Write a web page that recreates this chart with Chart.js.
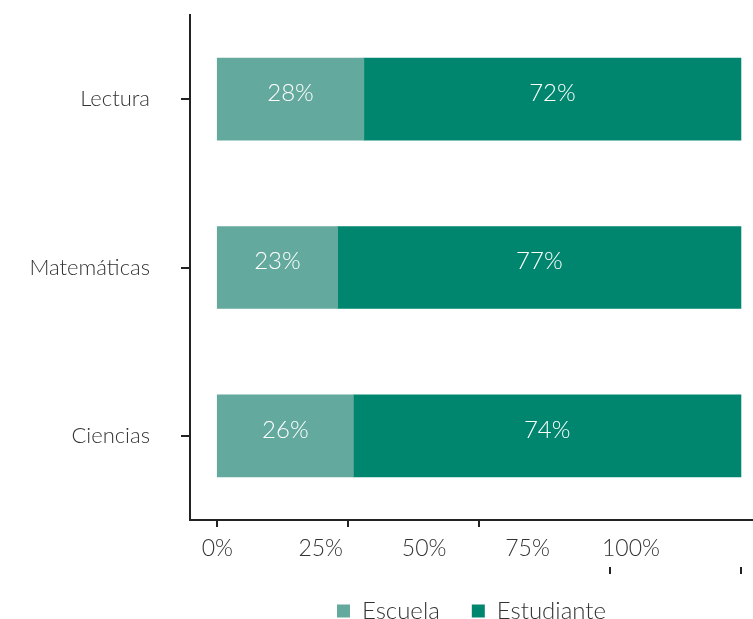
<!DOCTYPE html>
<html>
<head>
<meta charset="utf-8">
<script src="https://cdn.jsdelivr.net/npm/chart.js@4"></script>
<style>
  html, body { margin: 0; padding: 0; background: #ffffff; }
  #wrap { width: 753px; height: 619px; }
</style>
</head>
<body>
<div id="wrap"><canvas id="c" width="753" height="619"></canvas></div>
<script>
// Distribución de la responsabilidad por área
const categories = ['Lectura', 'Matemáticas', 'Ciencias'];
const escuela = [28, 23, 26];
const estudiante = [72, 77, 74];
const xTickValues = [0, 25, 50, 75, 100];

const FONT = "Lato, 'Open Sans', sans-serif";
const TEXT = '#333333';
const AXIS = '#222222';

// White percentage labels centred on each bar segment
const segmentLabels = {
  id: 'segmentLabels',
  afterDatasetsDraw(chart) {
    const ctx = chart.ctx;
    ctx.save();
    ctx.fillStyle = '#ffffff';
    ctx.font = '300 24px ' + FONT;
    ctx.textAlign = 'center';
    ctx.textBaseline = 'middle';
    chart.data.datasets.forEach((ds, di) => {
      chart.getDatasetMeta(di).data.forEach((bar, i) => {
        const p = bar.getCenterPoint();
        ctx.fillText(ds.data[i] + '%', p.x, p.y - 6);
      });
    });
    ctx.restore();
  }
};

// Small tick marks along the value axis
const valueTicks = {
  id: 'valueTicks',
  afterDraw(chart) {
    const sc = chart.scales.x;
    const ctx = chart.ctx;
    const base = chart.chartArea.bottom;
    ctx.save();
    ctx.strokeStyle = AXIS;
    ctx.lineWidth = 2;
    xTickValues.forEach((v, i) => {
      const px = Math.round(sc.getPixelForValue(v));
      const y0 = i < 3 ? base : base + 47;
      ctx.beginPath();
      ctx.moveTo(px, y0);
      ctx.lineTo(px, y0 + 7);
      ctx.stroke();
    });
    ctx.restore();
  }
};

new Chart(document.getElementById('c'), {
  type: 'bar',
  data: {
    labels: categories,
    datasets: [
      { label: 'Escuela', data: escuela, backgroundColor: '#63a99d', borderWidth: 0 },
      { label: 'Estudiante', data: estudiante, backgroundColor: '#00866f', borderWidth: 0 }
    ]
  },
  options: {
    indexAxis: 'y',
    responsive: false,
    animation: false,
    barThickness: 82,
    layout: { padding: { top: 15, left: 0, right: 0, bottom: 0 } },
    scales: {
      x: {
        type: 'linear',
        stacked: true,
        min: -5.2,
        max: 102.3,
        weight: 0,
        afterBuildTicks(s) { s.ticks = xTickValues.map(v => ({ value: v })); },
        afterFit(s) { s.height = 0; },
        grid: { display: false, drawTicks: false },
        border: { display: true, color: AXIS, width: 2 },
        ticks: { display: false }
      },
      xl: {
        type: 'linear',
        position: 'bottom',
        axis: 'x',
        min: -6.6,
        max: 129.5,
        weight: 1,
        afterBuildTicks(s) { s.ticks = xTickValues.map(v => ({ value: v })); },
        afterFit(s) { s.height = 47; },
        grid: { display: false, drawTicks: false },
        border: { display: false },
        ticks: {
          padding: 15,
          color: TEXT,
          font: { family: FONT, size: 23, weight: '300' },
          callback: v => v + '%'
        }
      },
      y: {
        stacked: true,
        afterFit(s) { s.width = 190; s.paddingTop = 0; s.paddingBottom = 0; },
        grid: { offset: false, drawOnChartArea: false, drawTicks: true, tickLength: 9, color: AXIS, lineWidth: 2 },
        border: { display: true, color: AXIS, width: 2 },
        ticks: {
          padding: 31,
          color: TEXT,
          font: { family: FONT, size: 22, weight: '300' }
        }
      }
    },
    plugins: {
      legend: {
        position: 'bottom',
        fullSize: false,
        maxHeight: 52,
        labels: {
          boxWidth: 13,
          boxHeight: 13,
          padding: 32,
          color: TEXT,
          font: { family: FONT, size: 24, weight: '300' }
        }
      },
      tooltip: { enabled: false }
    }
  },
  plugins: [segmentLabels, valueTicks]
});
</script>
</body>
</html>
